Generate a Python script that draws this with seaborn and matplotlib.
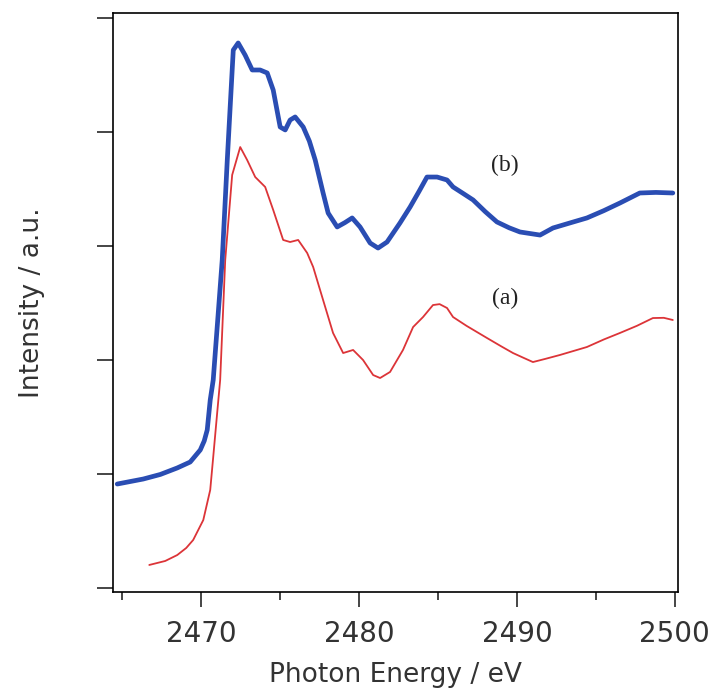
import matplotlib
matplotlib.use("Agg")
import matplotlib.pyplot as plt
import seaborn as sns
import pandas as pd
from matplotlib.ticker import MultipleLocator

# ---- data ----
energy_b = [2464.68, 2466.33, 2467.41, 2468.48, 2469.30, 2469.94, 2470.19, 2470.38,
            2470.57, 2470.76, 2471.33, 2471.65, 2472.03, 2472.34, 2472.78, 2473.23,
            2473.73, 2474.18, 2474.56, 2475.00, 2475.32, 2475.63, 2475.95, 2476.46,
            2476.85, 2477.22, 2477.72, 2478.04, 2478.61, 2479.10, 2479.56, 2480.06,
            2480.70, 2481.20, 2481.77, 2482.59, 2483.23, 2483.80, 2484.30, 2484.94,
            2485.57, 2485.95, 2486.60, 2487.22, 2488.00, 2488.73, 2489.50, 2490.19,
            2491.46, 2492.28, 2493.30, 2494.43, 2495.50, 2496.52, 2497.78, 2498.80,
            2499.87]
intensity_b = [0.912, 0.956, 0.996, 1.053, 1.105, 1.211, 1.290, 1.386,
               1.649, 1.825, 2.877, 3.754, 4.719, 4.781, 4.675, 4.544,
               4.544, 4.518, 4.368, 4.044, 4.018, 4.105, 4.132, 4.044,
               3.920, 3.754, 3.465, 3.289, 3.167, 3.205, 3.246, 3.167,
               3.026, 2.982, 3.035, 3.202, 3.342, 3.480, 3.605, 3.605,
               3.579, 3.518, 3.460, 3.404, 3.300, 3.211, 3.160, 3.123,
               3.096, 3.158, 3.200, 3.246, 3.310, 3.377, 3.465, 3.470,
               3.465]

energy_a = [2466.71, 2467.72, 2468.48, 2469.05, 2469.49, 2470.13, 2470.57, 2470.76,
            2471.01, 2471.20, 2471.52, 2471.96, 2472.47, 2472.91, 2473.42, 2474.05,
            2474.56, 2475.19, 2475.63, 2476.14, 2476.71, 2477.09, 2477.72, 2478.35,
            2478.99, 2479.62, 2480.25, 2480.89, 2481.33, 2481.96, 2482.78, 2483.42,
            2484.05, 2484.68, 2485.10, 2485.57, 2485.95, 2486.80, 2488.10, 2489.00,
            2489.75, 2490.40, 2491.01, 2491.80, 2492.72, 2493.60, 2494.43, 2495.50,
            2496.52, 2497.60, 2498.61, 2499.30, 2499.87]
intensity_a = [0.202, 0.237, 0.289, 0.351, 0.421, 0.596, 0.860, 1.149,
               1.535, 1.825, 2.877, 3.623, 3.868, 3.754, 3.605, 3.518,
               3.316, 3.053, 3.035, 3.053, 2.939, 2.816, 2.526, 2.237,
               2.061, 2.088, 2.000, 1.868, 1.842, 1.895, 2.088, 2.289,
               2.377, 2.482, 2.490, 2.456, 2.377, 2.300, 2.193, 2.120,
               2.061, 2.020, 1.982, 2.010, 2.044, 2.080, 2.114, 2.180,
               2.237, 2.300, 2.368, 2.370, 2.351]

x_ticks = [2470, 2480, 2490, 2500]
labels = ["(a)", "(b)"]

df_a = pd.DataFrame({"E": energy_a, "I": intensity_a})
df_b = pd.DataFrame({"E": energy_b, "I": intensity_b})

sns.set_theme(style="ticks")
plt.rcParams["font.family"] = ["DejaVu Sans"]

fig = plt.figure(figsize=(7.14, 6.91), dpi=100)
ax = fig.add_axes([0.158, 0.1433, 0.7916, 0.8379])

sns.lineplot(data=df_a, x="E", y="I", ax=ax, color="#dc3438", linewidth=1.3,
             sort=False, estimator=None)
sns.lineplot(data=df_b, x="E", y="I", ax=ax, color="#2a4db3", linewidth=3.4,
             sort=False, estimator=None)
for ln in ax.get_lines():
    ln.set_solid_joinstyle("round")
    ln.set_solid_capstyle("round")

ax.set_xlim(2464.4, 2500.2)
ax.set_ylim(-0.035, 5.044)
ax.set_xticks(x_ticks)
ax.xaxis.set_minor_locator(MultipleLocator(5))
ax.set_yticks([0, 1, 2, 3, 4, 5])
ax.set_yticklabels([])

for s in ax.spines.values():
    s.set_visible(True)
    s.set_color("black")
    s.set_linewidth(1.2)

ax.tick_params(axis="x", which="major", length=11, width=1.2, direction="out",
               labelsize=20, labelcolor="#333333", pad=9)
ax.tick_params(axis="x", which="minor", length=5.5, width=1.2, direction="out")
ax.tick_params(axis="y", which="major", length=11.5, width=1.2, direction="out")

ax.set_xlabel("Photon Energy / eV", fontsize=19, color="#333333", labelpad=10)
ax.set_ylabel("Intensity / a.u.", fontsize=19, color="#333333", labelpad=34)

ax.text(2489.24, 2.54, labels[0], fontsize=17, family="Liberation Serif",
        ha="center", va="center", color="#222222")
ax.text(2489.24, 3.71, labels[1], fontsize=17, family="Liberation Serif",
        ha="center", va="center", color="#222222")

fig.savefig("out.png", dpi=100)
